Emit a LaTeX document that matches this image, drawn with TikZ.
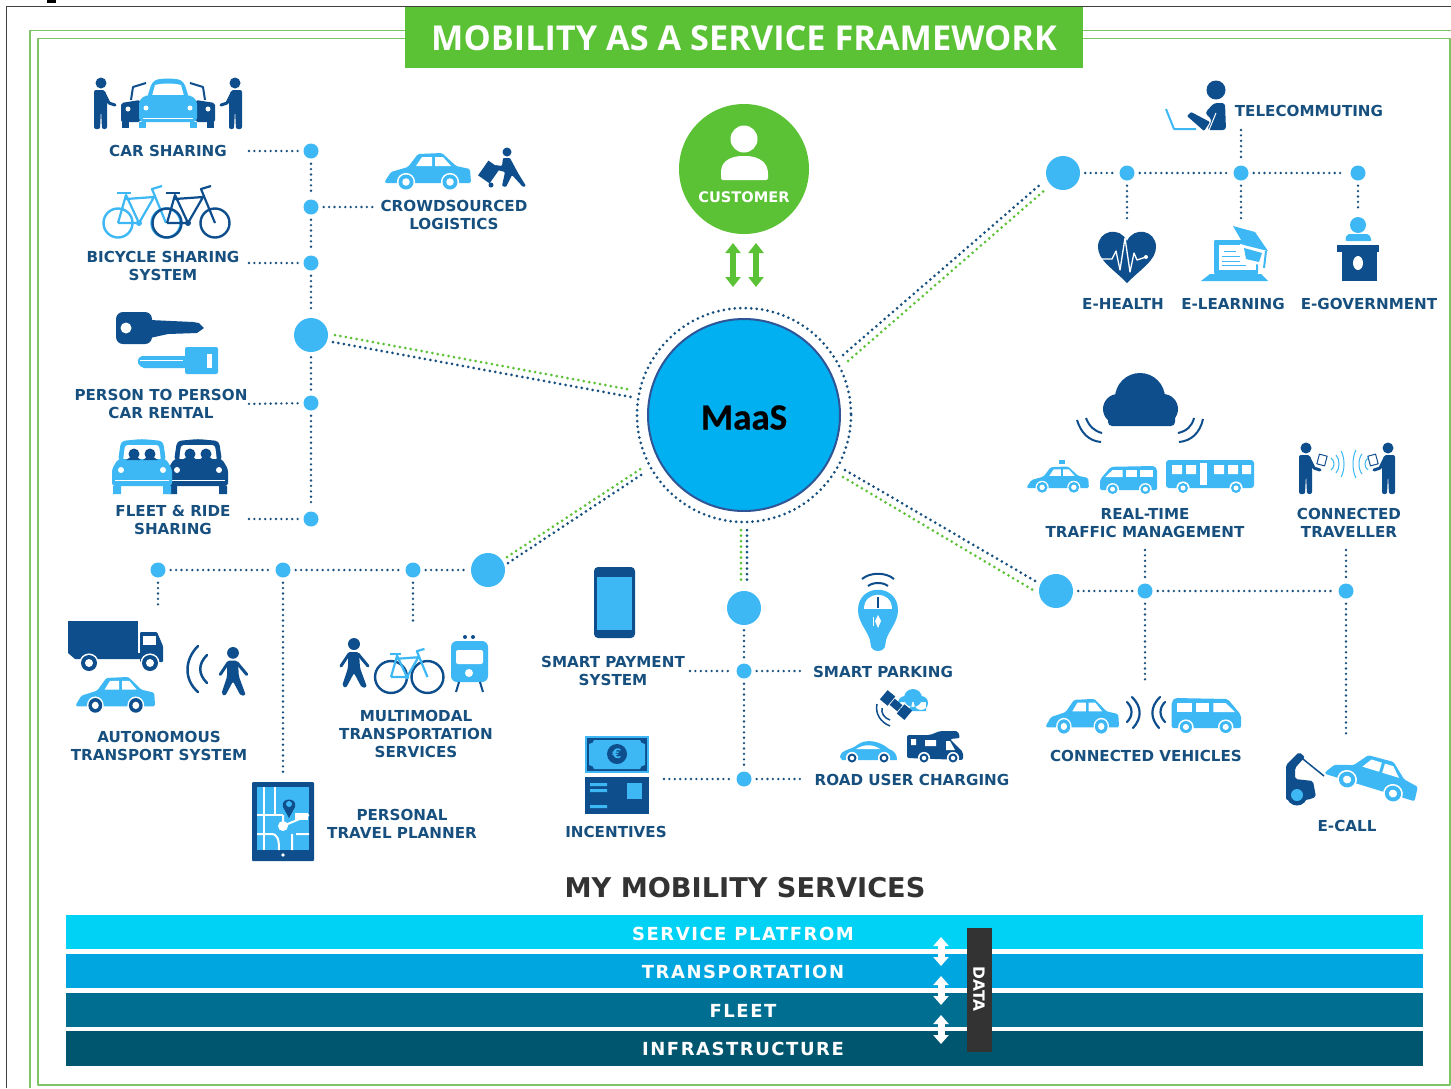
\documentclass[tikz,border=0pt]{standalone}
\usepackage{fontspec}
\setmainfont{DejaVu Sans}
\newfontfamily\titlefont{Open Sans}
\newfontfamily\maasfont[FakeBold=0.5]{Carlito}
\usetikzlibrary{arrows.meta}
\definecolor{lb}{HTML}{3DB8F5}
\definecolor{db}{HTML}{0F4E8C}
\definecolor{tx}{HTML}{17507F}
\definecolor{gr}{HTML}{5BC236}
\definecolor{frm}{HTML}{7CC464}
\tikzset{
  lab/.style={font=\fontsize{15.15}{18}\selectfont\bfseries,text=tx,align=center,inner sep=0pt},
  barlab/.style={font=\fontsize{18}{20}\selectfont\bfseries\addfontfeatures{LetterSpace=8.5},text=white,inner sep=0pt},
  hub/.style={circle,fill=lb,minimum size=34pt,inner sep=0pt},
  dotn/.style={circle,fill=lb,minimum size=15pt,inner sep=0pt},
  dots/.style={line width=3pt,dash pattern=on 0pt off 5.5pt,line cap=round,color=#1},
  dots/.default=tx,
  fine/.style={line width=2.6pt,dash pattern=on 0pt off 5.4pt,line cap=round,color=tx,shorten >=5pt,shorten <=5pt},
  bar/.style={inner sep=0pt,minimum width=1357pt,minimum height=34.5pt,anchor=west},
  gdbl/.style={draw=gr,line width=6.5pt,{Stealth[length=10pt,width=15pt,inset=0pt]}-{Stealth[length=10pt,width=15pt,inset=0pt]}},
  wdbl/.style={white,line width=7pt,{Stealth[length=9pt,width=15pt,inset=0pt]}-{Stealth[length=9pt,width=15pt,inset=0pt]}},
}
% ---------- icon macros (all in pixel coordinates, y down)
\newcommand{\wheelat}[4]{% x y radius colour
  \fill[white] (#1,#2) circle[radius=#3+1.6];
  \fill[#4] (#1,#2) circle[radius=#3];
  \fill[white] (#1,#2) circle[radius=#3*0.5];}
\newcommand{\sedanicon}[6]{% x y sx sy body wheel  (86 wide, 39 high)
  \begin{scope}[shift={(#1,#2)},xscale=#3,yscale=#4]
  \fill[#5,rounded corners=1.5pt] (0,30) -- (6,21) -- (23,16) -- (33,3) -- (57,2) -- (71,15) -- (85,18) -- (86,32) -- (0,32) -- cycle;
  \fill[white] (31,15) -- (37,6) -- (47,6) -- (47,15) -- cycle;
  \fill[white] (50,15) -- (50,6) -- (58,6) -- (66,15) -- cycle;
  \wheelat{21}{31}{7.5}{#6}
  \wheelat{65}{31}{7.5}{#6}
  \end{scope}}
\newcommand{\vanicon}[5]{% x y sx sy colour  (68 wide, 36 high), nose to the left
  \begin{scope}[shift={(#1,#2)},xscale=#3,yscale=#4]
  \fill[#5,rounded corners=2pt] (0,30) -- (0,17) -- (13,1) -- (65,0) -- (68,4) -- (68,30) -- cycle;
  \fill[white] (6,14) -- (15,5) -- (27,5) -- (27,14) -- cycle;
  \fill[white] (31,14) -- (31,5) -- (44,5) -- (44,14) -- cycle;
  \fill[white] (48,14) -- (48,5) -- (63,5) -- (63,14) -- cycle;
  \wheelat{15}{29}{6}{#5}
  \wheelat{54}{29}{6}{#5}
  \end{scope}}
\newcommand{\standing}[5]{% x y sx sy colour  feet at y, height 52
  \begin{scope}[shift={(#1,#2)},xscale=#3,yscale=#4]
  \fill[#5] (0,-46) circle[radius=5.5];
  \fill[#5,rounded corners=2pt] (-7,-39) -- (4,-39) -- (6,-30) -- (6,0) -- (1,0) -- (0,-20) -- (-1,0) -- (-7,0) -- cycle;
  \draw[#5,line width=3pt,line cap=round] (3,-36) -- (8,-26) -- (14,-24);
  \end{scope}}
\newcommand{\walker}[4]{% x y scale colour ; feet at y, height 50
  \begin{scope}[shift={(#1,#2)},scale=#3]
  \fill[#4] (0,-44) circle[radius=6];
  \fill[#4,rounded corners=2pt] (-6,-36) -- (5,-36) -- (6,-20) -- (13,-1) -- (8,0) -- (0,-15) -- (-8,0) -- (-12,-2) -- (-6,-20) -- cycle;
  \draw[#4,line width=3pt,line cap=round] (4,-34) -- (14,-22);
  \draw[#4,line width=3pt,line cap=round] (-5,-34) -- (-13,-22);
  \end{scope}}
\newcommand{\bikeicon}[6]{% x y scale frame wheel radius ; origin rear axle
  \begin{scope}[shift={(#1,#2)},scale=#3]
  \draw[#5,line width=2.4pt] (0,0) circle[radius=#6] (48,0) circle[radius=#6];
  \draw[#4,line width=2.2pt] (0,0) -- (21,0) -- (8,-28) -- (0,0);
  \draw[#4,line width=2.2pt] (21,0) -- (36,-26) -- (8,-24);
  \draw[#4,line width=2.2pt] (48,0) -- (34,-34) -- (44,-37);
  \draw[#4,line width=2.2pt] (-1,-30) -- (13,-30);
  \fill[#4] (21,0) circle[radius=3];
  \end{scope}}
\newcommand{\frontcar}[2]{% x colour ; fleet car, 60 wide
  \begin{scope}[shift={(#1,439)}]
  \fill[#2,rounded corners=4pt] (6,22) -- (9,2) -- (30,0) -- (51,2) -- (54,22) -- cycle;
  \fill[white,rounded corners=3pt] (11,22) -- (13,6) -- (47,6) -- (49,22) -- cycle;
  \fill[#2,rounded corners=3pt] (0,47) -- (0,30) -- (6,20) -- (54,20) -- (60,30) -- (60,47) -- cycle;
  \fill[#2] (1,47) rectangle (9,55) (51,47) rectangle (59,55);
  \draw[white,line width=1pt] (3,41) -- (57,41);
  \fill[white] (9,31) circle[radius=3] (51,31) circle[radius=3];
  \fill[db] (22,15) circle[radius=5.5] (38,15) circle[radius=5.5];
  \fill[db] (14,21) .. controls (18,17) and (26,17) .. (29,21) -- cycle (31,21) .. controls (34,17) and (42,17) .. (46,21) -- cycle;
  \end{scope}}
\begin{document}
\begin{tikzpicture}[x=1pt,y=-1pt,line join=round]
\useasboundingbox (0,0) rectangle (1451,1088);
\fill[white] (0,0) rectangle (1451,1088);
% --- outer frame
\fill[black] (47,0) rectangle (56,3);
\draw[black!75,line width=1pt] (6.5,1088) -- (6.5,6.5) -- (1451,6.5);
\draw[frm,line width=1.8pt] (30,1088) -- (30,30.5) -- (1451,30.5);
\draw[frm,line width=1.8pt] (38,38.5) -- (38,1085) -- (1450,1085) -- (1450,38.5) -- cycle;
% --- title
\node[fill=gr,minimum width=678pt,minimum height=61pt,inner sep=0pt] (title) at (744,37.5) {};
\node[inner sep=0pt,text=white,font=\titlefont\fontsize{34.3}{40}\selectfont\bfseries] (titlet) at (744,38.5) {MOBILITY AS A SERVICE FRAMEWORK};
% --- central nodes
\node[circle,fill=gr,minimum size=130pt,inner sep=0pt] (cust) at (744,169) {};
\fill[white] (744,139) circle[radius=13.5];
\fill[white,rounded corners=2pt] (721,180) -- (721,172) .. controls (722,160) and (733,156) .. (744,156) .. controls (755,156) and (766,160) .. (768,172) -- (768,180) -- cycle;
\node[text=white,inner sep=0pt,font=\fontsize{14.6}{16}\selectfont\bfseries] (custt) at (744,197) {CUSTOMER};
\node[circle,fill={rgb,255:red,0;green,176;blue,240},draw={rgb,255:red,47;green,85;blue,151},line width=2pt,minimum size=192pt,inner sep=0pt,font=\maasfont\fontsize{37}{40}\selectfont\bfseries] (maas) at (744,415) {\raisebox{-14.5pt}[0pt][0pt]{MaaS}};
\draw[dots] (744,415) circle[radius=107];
\coordinate (au1) at (733,243); \coordinate (ad1) at (733,287);
\coordinate (au2) at (756,243); \coordinate (ad2) at (756,287);
\draw[gdbl] (au1) -- (ad1);
\draw[gdbl] (au2) -- (ad2);
% --- hubs
\node[hub] (hl) at (311,335) {};
\node[hub] (htr) at (1063,173) {};
\node[hub] (hbl) at (488,570) {};
\node[hub] (hb) at (744,608) {};
\node[hub] (hbr) at (1056,591) {};
% --- small nodes
\foreach \n/\x/\y in {a1/311/151,a2/311/207,a3/311/263,a4/311/403,a5/311/519,
  b1/158/570,b2/283/570,b3/413/570,c1/744/671,c2/744/779,
  d1/1127/173,d2/1241/173,d3/1358/173,e1/1145/591,e2/1346/591}
  \node[dotn] (\n) at (\x,\y) {};
% --- spokes
\foreach \sa/\sb/\ea/\eb/\col in {
  335/335/632/390/gr, 333/342/631/397/tx,
  843/355/1042/183/tx, 848/361/1046/189/gr,
  507/557/642/468/gr, 508/563/644/473/tx,
  741/530/741/584/gr, 747/530/747/584/tx,
  845/470/1037/582/tx, 843/477/1033/590/gr}
  \draw[dots=\col] (\sa,\sb) -- (\ea,\eb);
% --- free connector ends
\foreach \n/\x/\y in {f1/244/151,f2/380/207,f3/244/263,f4/244/404,f5/244/519,
  g1/158/614,g2/283/777,g3/413/630,h1/685/671,h2/808/671,h3/659/779,h4/808/779,
  i1/1127/227,i2/1241/225,i3/1241/125,i4/1358/215,j1/1145/545,j2/1145/688,j3/1346/545,j4/1346/742}
  \coordinate (\n) at (\x,\y);
\draw[fine] (a1) -- (a2); \draw[fine] (a2) -- (a3); \draw[fine] (a3) -- (hl); \draw[fine] (hl) -- (a4); \draw[fine] (a4) -- (a5);
\draw[fine] (f1) -- (a1); \draw[fine] (a2) -- (f2); \draw[fine] (f3) -- (a3); \draw[fine] (f4) -- (a4); \draw[fine] (f5) -- (a5);
\draw[fine] (b1) -- (b2); \draw[fine] (b2) -- (b3); \draw[fine] (b3) -- (hbl);
\draw[fine] (b1) -- (g1); \draw[fine] (b2) -- (g2); \draw[fine] (b3) -- (g3);
\draw[fine] (hb) -- (c1); \draw[fine] (c1) -- (c2);
\draw[fine] (h1) -- (c1); \draw[fine] (c1) -- (h2); \draw[fine] (h3) -- (c2); \draw[fine] (c2) -- (h4);
\draw[fine] (htr) -- (d1); \draw[fine] (d1) -- (d2); \draw[fine] (d2) -- (d3);
\draw[fine] (d1) -- (i1); \draw[fine] (d2) -- (i2); \draw[fine] (i3) -- (d2); \draw[fine] (d3) -- (i4);
\draw[fine] (hbr) -- (e1); \draw[fine] (e1) -- (e2);
\draw[fine] (j1) -- (e1); \draw[fine] (e1) -- (j2); \draw[fine] (j3) -- (e2); \draw[fine] (e2) -- (j4);
% --- labels
\node[lab] (l1) at (168,150.5) {CAR SHARING};
\node[lab] (l2) at (454,214.5) {CROWDSOURCED\\LOGISTICS};
\node[lab] (l3) at (163,265.5) {BICYCLE SHARING\\SYSTEM};
\node[lab] (l4) at (161,403.5) {PERSON TO PERSON\\CAR RENTAL};
\node[lab] (l5) at (173,519.5) {FLEET \& RIDE\\SHARING};
\node[lab] (l6) at (159,745.5) {AUTONOMOUS\\TRANSPORT SYSTEM};
\node[lab] (l7) at (416,733.5) {MULTIMODAL\\TRANSPORTATION\\SERVICES};
\node[lab] (l8) at (402,823.5) {PERSONAL\\TRAVEL PLANNER};
\node[lab] (l9) at (613,670.5) {SMART PAYMENT\\SYSTEM};
\node[lab] (l10) at (616,831.5) {INCENTIVES};
\node[lab] (l11) at (883,671.5) {SMART PARKING};
\node[lab] (l12) at (912,779.5) {ROAD USER CHARGING};
\node[lab] (l13) at (1145,523.5) {REAL-TIME\\TRAFFIC MANAGEMENT};
\node[lab] (l14) at (1349,522.5) {CONNECTED\\TRAVELLER};
\node[lab] (l15) at (1146,755.5) {CONNECTED VEHICLES};
\node[lab] (l16) at (1347,825.5) {E-CALL};
\node[lab] (l17) at (1309,110.5) {TELECOMMUTING};
\node[lab] (l18) at (1123,303.5) {E-HEALTH};
\node[lab] (l19) at (1233,303.5) {E-LEARNING};
\node[lab] (l20) at (1369,303.5) {E-GOVERNMENT};
% --- car sharing icon
\standing{101}{129}{1}{1}{db}
\standing{235}{129}{-1}{1}{db}
\foreach \m in {1,-1}{
 \begin{scope}[shift={(168,0)},xscale=\m]
 \fill[db,rounded corners=2pt] (-47,122) -- (-47,103) -- (-28,100) -- (-28,122) -- cycle;
 \fill[db] (-46,122) rectangle (-39,128);
 \draw[db,line width=2pt] (-37,100) -- (-35,87) -- (-22,83);
 \fill[white] (-40,109) circle[radius=2.5];
 \fill[lb] (-29,122) rectangle (-22,128);
 \end{scope}}
\fill[lb,rounded corners=4pt] (147,98) -- (152,82) .. controls (160,78) and (176,78) .. (184,82) -- (189,98) -- cycle;
\fill[white] (152,96) -- (155,85) .. controls (163,83) and (173,83) .. (181,85) -- (184,96) -- cycle;
\fill[lb,rounded corners=4pt] (139,122) -- (139,100) -- (146,95) -- (190,95) -- (197,100) -- (197,122) -- cycle;
\fill[white] (146,108) circle[radius=2.5] (190,108) circle[radius=2.5];
\draw[white,line width=1pt] (143,118) -- (193,118);
% --- crowdsourced
\sedanicon{385}{151}{1}{1}{lb}{lb}
\fill[db] (507,152) circle[radius=4.5];
\fill[db,rounded corners=1pt] (503,158) -- (510,158) -- (518,173) -- (526,186) -- (523,187) -- (512,175) -- (506,187) -- (502,186) -- (505,172) -- (494,169) -- (495,165) -- (502,166) -- cycle;
\fill[db,rotate around={-35:(489,172)}] (482,163) rectangle (496,181);
\fill[db] (491,185) circle[radius=2.5];
% --- bicycles
\bikeicon{118}{223}{1}{lb}{lb}{14.5}
\bikeicon{167}{223}{1}{db}{db}{14.5}
% --- keys
\fill[db,rounded corners=7pt] (116,312) rectangle (152,344);
\fill[db] (150,320) -- (193,322) -- (199,323) -- (204,328) -- (197,333) -- (168,334) -- (150,338) -- cycle;
\fill[white] (126,328) circle[radius=5.5];
\fill[lb,rounded corners=2pt] (185,347) rectangle (218,374);
\fill[lb,rounded corners=2pt] (137,362) -- (140,356) -- (187,356) -- (187,368) -- (142,368) -- cycle;
\draw[white,line width=1pt] (140,360) -- (183,360);
\fill[white] (207,354) rectangle (212,368);
% --- fleet
\frontcar{168}{db}
\frontcar{112}{lb}
% --- autonomous
\fill[db] (68,621) rectangle (138,653);
\fill[db] (68,653) -- (75,659) -- (141,659) -- (141,653) -- cycle;
\fill[db,rounded corners=1pt] (140,632) -- (157,632) -- (163,646) -- (163,662) -- (140,662) -- cycle;
\fill[white] (143,636) rectangle (156,645);
\wheelat{89}{663}{8}{db}
\wheelat{150}{663}{8}{db}
\sedanicon{76}{675}{0.92}{0.98}{lb}{db}
\draw[db,line width=2.5pt,line cap=round] (198,646) .. controls (184,660) and (184,680) .. (198,692);
\draw[db,line width=2.5pt,line cap=round] (207,655) .. controls (198,664) and (198,674) .. (207,683);
\walker{233}{696}{0.98}{db}
% --- multimodal
\walker{354}{688}{1}{db}
\bikeicon{391}{677}{0.76}{lb}{db}{21}
\fill[lb,rounded corners=6pt] (451,641) rectangle (488,682);
\fill[white,rounded corners=2pt] (456,650) rectangle (483,664);
\fill[white] (469,673) circle[radius=4];
\fill[db] (465,637) circle[radius=2] (473,637) circle[radius=2];
\draw[db,line width=2pt] (459,682) -- (456,692) (480,682) -- (483,692);
% --- tablet
\fill[db,rounded corners=1pt] (252,782) rectangle (314,861);
\fill[lb] (257,787) rectangle (309,850);
\draw[white,line width=2pt] (264,787) -- (264,850) (257,815) -- (283,815) (275,787) -- (275,815);
\draw[white,line width=2pt] (257,834) -- (271,834) .. controls (278,834) and (279,840) .. (279,850);
\draw[white,line width=2pt] (283,815) -- (283,826) (283,826) -- (309,815) (296,834) -- (309,834) (292,850) -- (292,834);
\fill[white] (283,826) circle[radius=5];
\fill[white] (295,820) rectangle (308,813);
\fill[db] (289,818) -- (283,807) .. controls (280,797) and (298,797) .. (295,807) -- cycle;
\fill[lb] (289,804) circle[radius=3];
\fill[white] (283,855) circle[radius=1.8];
% --- phone
\fill[db,rounded corners=4pt] (594,567) rectangle (635,638);
\fill[lb] (597,577) rectangle (632,630);
% --- parking meter
\draw[db,line width=2pt] (862,579) .. controls (870,572) and (886,572) .. (894,579);
\draw[db,line width=2pt] (868,586) .. controls (873,582) and (883,582) .. (888,586);
\fill[lb] (858,610) .. controls (858,583) and (898,583) .. (898,610) .. controls (898,622) and (889,630) .. (886,640) .. controls (885,646) and (886,650) .. (878,651) .. controls (870,650) and (871,646) .. (870,640) .. controls (867,630) and (858,622) .. (858,610) -- cycle;
\fill[white] (864,609) .. controls (864,590) and (892,590) .. (892,609) -- cycle;
\draw[db,line width=1.5pt] (878,597) -- (878,608);
\fill[white] (878,615) -- (881,621) -- (878,628) -- (875,621) -- cycle;
\fill[white] (873,617) rectangle (874,626);
% --- road user charging
\fill[lb] (913,698) circle[radius=9] (921,703) circle[radius=7] (905,703) circle[radius=7] (900,702) rectangle (926,711);
\begin{scope}[shift={(896,705)},rotate=-40]
\fill[db] (-16,-6) rectangle (-6,6);
\fill[db] (-5,-4) rectangle (5,4);
\fill[db] (6,-6) rectangle (16,6);
\end{scope}
\draw[db,line width=1.5pt] (877,704) .. controls (875,713) and (880,722) .. (890,726);
\draw[db,line width=1.5pt] (882,708) .. controls (881,713) and (884,718) .. (890,720);
\fill[lb] (840,757) .. controls (841,749) and (852,750) .. (857,745) .. controls (866,738) and (880,741) .. (889,749) .. controls (895,751) and (897,755) .. (897,760) -- (842,760) -- cycle;
\fill[white] (856,749) .. controls (864,744) and (873,744) .. (880,749) -- cycle;
\wheelat{852}{758}{4.5}{db}
\wheelat{884}{758}{4.5}{db}
\fill[db,rounded corners=2pt] (907,735) -- (930,735) -- (940,731) -- (958,731) -- (960,738) -- (950,739) -- (963,752) -- (963,760) -- (907,758) -- cycle;
\fill[white] (911,739) rectangle (916,745) (925,740) rectangle (936,746);
\fill[white] (946,741) -- (946,750) -- (955,750) -- (950,741) -- cycle;
\wheelat{924}{758}{4.5}{db}
\wheelat{953}{758}{4.5}{db}
% --- incentives
\fill[lb] (585,736) rectangle (649,773);
\fill[db] (587,738) rectangle (647,771);
\fill[lb] (589,744) .. controls (592,744) and (594,742) .. (594,740) -- (640,740) .. controls (640,742) and (642,744) .. (645,744) -- (645,765) .. controls (642,765) and (640,767) .. (640,769) -- (594,769) .. controls (594,767) and (592,765) .. (589,765) -- cycle;
\fill[db] (617,754) circle[radius=10];
\node[text=lb,inner sep=0pt,font=\fontsize{13}{15}\selectfont\bfseries] (eur) at (617,754) {€};
\fill[db] (585,777) rectangle (649,814);
\fill[lb] (627,783) rectangle (642,799);
\fill[lb] (590,783) rectangle (607,786) (590,789) rectangle (607,792) (590,805) rectangle (607,808);
% --- e-health
\fill[db] (1127,283) .. controls (1112,268) and (1098,260) .. (1098,247) .. controls (1098,230) and (1120,226) .. (1127,241) .. controls (1134,226) and (1156,230) .. (1156,247) .. controls (1156,260) and (1142,268) .. (1127,283) -- cycle;
\draw[white,line width=1.3pt] (1100,259) -- (1112,259) -- (1116,251) -- (1120,270) -- (1125,238) -- (1130,272) -- (1134,253) -- (1137,260) -- (1146,257);
\fill[white] (1146,257) circle[radius=2];
% --- e-learning
\fill[lb,rounded corners=1pt] (1214,240) rectangle (1258,274);
\fill[white] (1219,245) rectangle (1256,270);
\fill[lb] (1201,281) -- (1210,274) -- (1261,274) -- (1268,281) -- cycle;
\draw[lb,line width=1pt] (1224,251) -- (1236,251) (1222,256) -- (1248,256) (1222,261) -- (1248,261) (1222,265) -- (1246,265);
\fill[white] (1240,244) -- (1265,250) -- (1262,265) -- (1240,262) -- cycle;
\fill[lb] (1233,226) -- (1255,232) -- (1268,251) -- (1244,245) -- cycle;
\fill[lb] (1244,248) -- (1262,253) -- (1259,262) -- (1246,259) -- cycle;
\draw[lb,line width=2pt] (1266,251) -- (1264,268);
% --- e-government
\fill[lb] (1358,225) circle[radius=8];
\fill[lb,rounded corners=2pt] (1345,241) -- (1347,234) -- (1369,234) -- (1372,241) -- cycle;
\fill[db] (1337,245) rectangle (1379,252);
\fill[db] (1342,252) rectangle (1377,281);
\fill[white] (1358,263) ellipse[x radius=5,y radius=7];
% --- telecommuting
\fill[db] (1216,90) circle[radius=9.5];
\fill[db,rounded corners=3pt] (1205,113) -- (1214,103) -- (1225,103) -- (1226,130) -- (1207,130) -- (1212,120) -- cycle;
\fill[db,rounded corners=1pt] (1187,116) -- (1191,112) -- (1210,122) -- (1204,131) -- cycle;
\draw[white,line width=1pt] (1209,130) -- (1216,113);
\draw[lb,line width=2pt] (1166,109) -- (1174,129) -- (1196,129);
% --- cloud
\fill[db] (1140,398) circle[radius=25] (1118,409) circle[radius=15] (1163,409) circle[radius=15];
\fill[db,rounded corners=4pt] (1108,400) rectangle (1175,426);
\draw[db,line width=2pt] (1077,420) .. controls (1081,433) and (1089,441) .. (1101,442);
\draw[db,line width=2pt] (1086,418) .. controls (1089,426) and (1094,431) .. (1102,433);
\draw[db,line width=2pt] (1203,419) .. controls (1200,433) and (1191,441) .. (1179,442);
\draw[db,line width=2pt] (1194,418) .. controls (1192,426) and (1187,431) .. (1178,433);
% --- real-time vehicles
\sedanicon{1027}{465}{0.72}{0.72}{lb}{lb}
\fill[lb] (1059,460) rectangle (1065,464);
\vanicon{1100}{466}{0.84}{0.8}{lb}
\fill[lb,rounded corners=3pt] (1166,460) rectangle (1254,488);
\fill[white] (1172,465) rectangle (1182,474) (1186,465) rectangle (1196,474) (1214,465) rectangle (1224,474) (1228,465) rectangle (1238,474) (1242,465) rectangle (1251,474);
\fill[white] (1200,463) rectangle (1207,485);
\wheelat{1183}{488}{5}{lb}
\wheelat{1236}{488}{5}{lb}
% --- connected traveller
\standing{1306}{494}{1}{1}{db}
\standing{1388}{494}{-1}{1}{db}
\fill[white,draw=db,line width=1pt,rotate around={-15:(1322,460)}] (1318,455) rectangle (1326,465);
\fill[white,draw=db,line width=1pt,rotate around={15:(1373,460)}] (1369,455) rectangle (1377,465);
\foreach \a/\h in {1331/6,1336/9,1341/13}{
 \draw[lb,line width=1pt] (\a,464-\h) .. controls (\a+4,464-\h/2) and (\a+4,464+\h/2) .. (\a,464+\h);}
\foreach \a/\h in {1368/6,1362/10,1356/14}{
 \draw[lb,line width=1pt] (\a,464-\h) .. controls (\a-4,464-\h/2) and (\a-4,464+\h/2) .. (\a,464+\h);}
% --- connected vehicles
\sedanicon{1046}{697}{0.85}{0.95}{lb}{lb}
\vanicon{1241}{698}{-1.02}{1}{lb}
\draw[db,line width=2.2pt,line cap=round] (1127,702) .. controls (1133,708) and (1133,716) .. (1127,722);
\draw[db,line width=2.2pt,line cap=round] (1132,697) .. controls (1142,707) and (1142,718) .. (1133,728);
\draw[db,line width=2.2pt,line cap=round] (1165,702) .. controls (1159,708) and (1159,716) .. (1165,722);
\draw[db,line width=2.2pt,line cap=round] (1160,697) .. controls (1150,707) and (1150,718) .. (1159,728);
% --- e-call
\draw[db,line width=1.5pt] (1298,755) -- (1324,776);
\fill[db,rounded corners=2pt] (1286,765) -- (1299,752) -- (1305,757) -- (1295,768) -- (1295,779) -- (1313,781) -- (1316,797) -- (1307,800) -- (1286,800) -- cycle;
\fill[db] (1297,795) circle[radius=10.5];
\fill[lb] (1297,795) circle[radius=6];
\begin{scope}[rotate around={-17:(1370,787)}]
\sedanicon{1323}{754}{1.09}{1.05}{lb}{lb}
\end{scope}
% --- bottom
\node[text={rgb,255:red,51;green,51;blue,51},inner sep=0pt,font=\fontsize{27.2}{30}\selectfont\bfseries] (my) at (745,888) {MY MOBILITY SERVICES};
\node[bar,fill={rgb,255:red,0;green,210;blue,245}] (b1x) at (66,932) {};
\node[bar,fill={rgb,255:red,0;green,166;blue,223}] (b2x) at (66,971) {};
\node[bar,fill={rgb,255:red,0;green,110;blue,145}] (b3x) at (66,1010) {};
\node[bar,fill={rgb,255:red,0;green,86;blue,111}] (b4x) at (66,1048.5) {};
\node[barlab] (t1) at (743,933.5) {SERVICE PLATFROM};
\node[barlab] (t2) at (743,971.5) {TRANSPORTATION};
\node[barlab] (t3) at (743,1010.5) {FLEET};
\node[barlab] (t4) at (743,1048.5) {INFRASTRUCTURE};
\node[fill={rgb,255:red,51;green,51;blue,51},minimum width=25pt,minimum height=124pt,inner sep=0pt] (dbar) at (979.5,990) {};
\node[rotate=-90,text=white,inner sep=0pt,font=\fontsize{15.5}{18}\selectfont\bfseries] (dtxt) at (979,989) {DATA};
\foreach \y in {937,976,1015}{
  \draw[wdbl] (941,\y) -- (941,\y+29);
}
\end{tikzpicture}
\end{document}
